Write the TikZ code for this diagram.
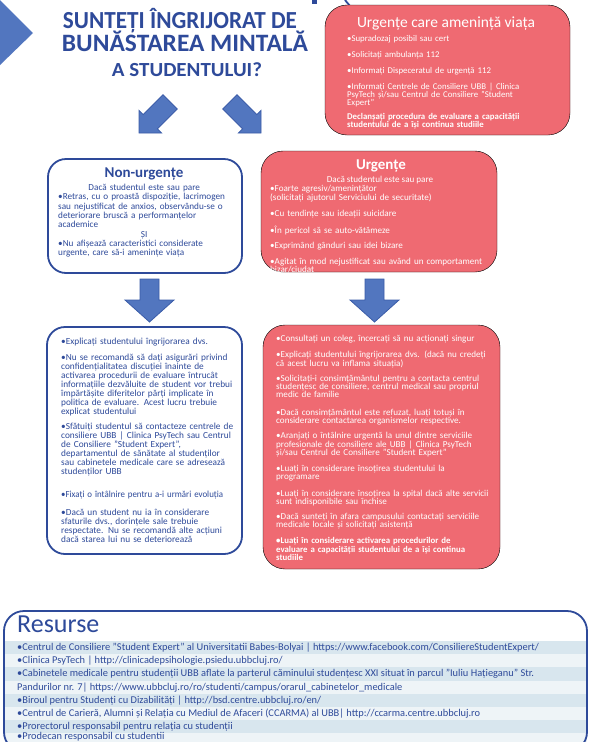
\documentclass[tikz,border=0pt]{standalone}
\usepackage{fontspec}
\setmainfont{Carlito}
\usepackage{graphicx}
\definecolor{bl}{HTML}{2E4A9A}
\definecolor{arr}{HTML}{5276BF}
\definecolor{arrd}{HTML}{3A5CA8}
\definecolor{rd}{HTML}{EF6A72}
\definecolor{stA}{HTML}{D8E6EE}
\definecolor{stB}{HTML}{EEF4F7}
\newcommand\jl[1]{\makebox[\hsize][s]{#1}}
\newcommand\cl[1]{\makebox[\hsize][c]{#1}}
\newcommand\lline[1]{\makebox[\hsize][l]{#1}}
\tikzset{
 redbox/.style={fill=rd, rounded corners=22pt},
 bluebox/.style={draw=bl, line width=1.8pt, fill=white, rounded corners=18pt},
 blockarrow/.style={fill=arr, draw=arrd, line width=0.8pt},
 btxt/.style={text=bl, font=\fontsize{9.3}{9}\selectfont, align=left, inner sep=0pt, anchor=north west},
 wtxt/.style={text=white, font=\fontsize{9.1}{8.2}\selectfont, align=left, inner sep=0pt, anchor=north west},
 restxt/.style={text=bl, font=\fontsize{10.4}{12}\selectfont, inner sep=0pt, anchor=west},
 titletxt/.style={text=bl, font=\bfseries, inner sep=0pt, anchor=base},
}
\begin{document}
\begin{tikzpicture}[x=1pt,y=-1pt]
\useasboundingbox (0,0) rectangle (589,742);
\clip (0,0) rectangle (589,742);
\fill[white] (0,0) rectangle (589,742);

% decorations at the top
\fill[arr] (0,0) -- (33,33) -- (0,65) -- cycle;
\fill[bl] (312,0) rectangle (317,4);
\draw[bl, line width=1.8pt] (345,0) -- (350,6);

% title
\node[titletxt] (t1) at (180,28.5) {\fontsize{24.5}{25}\selectfont\resizebox{234pt}{\height}{SUNTEȚI ÎNGRIJORAT DE}};
\node[titletxt] (t2) at (185,51.5) {\fontsize{25}{25}\selectfont\resizebox{246pt}{\height}{BUNĂSTAREA MINTALĂ}};
\node[titletxt] (t3) at (187,76) {\fontsize{20}{20}\selectfont\resizebox{150pt}{\height}{A STUDENTULUI?}};

% diagonal arrows
\draw[blockarrow] (163,94.8) -- (143.2,114.6) -- (139,110.4) -- (139,133) -- (161.6,133) -- (157.4,128.8) -- (177.2,109) -- cycle;
\draw[blockarrow] (237,94.8) -- (256.8,114.6) -- (261,110.4) -- (261,133) -- (238.4,133) -- (242.6,128.8) -- (222.8,109) -- cycle;

% boxes
\draw[redbox] (325,5) rectangle (570,135);
\draw[bluebox] (48,159) rectangle (242,273);
\draw[redbox] (261,151) rectangle (497,272);
\draw[bluebox] (47,327) rectangle (242,554);
\draw[redbox] (263,325) rectangle (500,569);

% down arrows
\draw[blockarrow] (140,279) -- (159,279) -- (159,300) -- (174,300) -- (149.5,322) -- (125,300) -- (140,300) -- cycle;
\draw[blockarrow] (365,279) -- (384,279) -- (384,300) -- (399,300) -- (374.5,322) -- (350,300) -- (365,300) -- cycle;

% top right box
\node[text=white, inner sep=0pt, anchor=base, font=\fontsize{15.5}{15}\selectfont] (trt) at (446,27) {Urgențe care amenință viața};
\node[wtxt, text width=190pt, font=\fontsize{8.8}{8}\selectfont] (trx) at (347,35) {%
•Supradozaj posibil sau cert\\[8pt]
•Solicitați ambulanța 112\\[8.5pt]
•Informați Dispeceratul de urgență 112\\[8pt]
•Informați Centrele de Consiliere UBB | Clinica\\
PsyTech și/sau Centrul de Consiliere "Student\\
Expert"\\[6pt]
\textbf{Declanșați procedura de evaluare a capacității}\\
\textbf{studentului de a își continua studiile}};

% non-urgente
\node[titletxt, font=\bfseries\fontsize{15}{15}\selectfont] (nut) at (144,177) {Non-urgențe};
\node[btxt, text width=172pt, font=\fontsize{9.2}{9.3}\selectfont] (nux) at (58,184) {%
\cl{Dacă studentul este sau pare}\\
\jl{•Retras, cu o proastă dispoziție, lacrimogen}\\
\jl{sau nejustificat de anxios, observându-se o}\\
\jl{deteriorare bruscă a performanțelor}\\
academice\\
\cl{ȘI}\\
\jl{•Nu afișează caracteristici considerate}\\
urgente, care să-i amenințe viața};

% urgente
\node[titletxt, text=white, font=\bfseries\fontsize{15}{15}\selectfont] (ut) at (381,169) {Urgențe};
\node[text=white, inner sep=0pt, anchor=base, font=\fontsize{9.1}{8.2}\selectfont] (ux0) at (380,182.5) {Dacă studentul este sau pare};
\node[wtxt, text width=222pt] (ux) at (270,185) {%
•Foarte agresiv/amenințător\\
(solicitați ajutorul Serviciului de securitate)\\[7.5pt]
•Cu tendințe sau ideații suicidare\\[7pt]
•În pericol să se auto-vătămeze\\[7pt]
•Exprimând gânduri sau idei bizare\\[7pt]
•Agitat în mod nejustificat sau având un comportament\\
bizar/ciudat};

% bottom left
\node[btxt, text width=169pt] (b1) at (61,338) {\lline{•Explicați studentului îngrijorarea dvs.}};
\node[btxt, text width=169pt] (b2) at (61,353.5) {%
\jl{•Nu se recomandă să dați asigurări privind}\\
\jl{confidențialitatea discuției înainte de}\\
\jl{activarea procedurii de evaluare întrucât}\\
\jl{informațiile dezvăluite de student vor trebui}\\
\jl{împărtășite diferitelor părți implicate în}\\
\jl{politica de evaluare. Acest lucru trebuie}\\
\lline{explicat studentului}};
\node[btxt, text width=169pt] (b3) at (61,423) {%
\jl{•Sfătuiți studentul să contacteze centrele de}\\
\jl{consiliere UBB | Clinica PsyTech sau Centrul}\\
\jl{de Consiliere "Student Expert",}\\
\jl{departamentul de sănătate al studenților}\\
\jl{sau cabinetele medicale care se adresează}\\
\lline{studenților UBB}};
\node[btxt, text width=169pt] (b4) at (61,490.5) {\lline{\resizebox{162pt}{\height}{•Fixați o întâlnire pentru a-i urmări evoluția}}};
\node[btxt, text width=169pt] (b5) at (61,508.5) {%
\jl{•Dacă un student nu ia în considerare}\\
\jl{sfaturile dvs., dorințele sale trebuie}\\
\jl{respectate. Nu se recomandă alte acțiuni}\\
\lline{dacă starea lui nu se deteriorează}};

% bottom right
\node[wtxt, text width=211pt] (r1) at (276,334.5) {\lline{•Consultați un coleg, încercați să nu acționați singur}};
\node[wtxt, text width=211pt] (r2) at (276,350.5) {%
\jl{•Explicați studentului îngrijorarea dvs. (dacă nu credeți}\\
\lline{că acest lucru va inflama situația)}};
\node[wtxt, text width=211pt] (r3) at (276,374.5) {%
\jl{•Solicitați-i consimțământul pentru a contacta centrul}\\
\jl{studențesc de consiliere, centrul medical sau propriul}\\
\lline{medic de familie}};
\node[wtxt, text width=211pt] (r4) at (276,408.5) {%
\jl{•Dacă consimțământul este refuzat, luați totuși în}\\
\lline{considerare contactarea organismelor respective.}};
\node[wtxt, text width=211pt] (r5) at (276,431.5) {%
\jl{•Aranjați o întâlnire urgentă la unul dintre serviciile}\\
\jl{profesionale de consiliere ale UBB | Clinica PsyTech}\\
\lline{și/sau Centrul de Consiliere "Student Expert"}};
\node[wtxt, text width=211pt] (r6) at (276,464.5) {%
\jl{•Luați în considerare însoțirea studentului la}\\
\lline{programare}};
\node[wtxt, text width=211pt] (r7) at (276,489.5) {%
\jl{•Luați în considerare însoțirea la spital dacă alte servicii}\\
\lline{sunt indisponibile sau închise}};
\node[wtxt, text width=211pt] (r8) at (276,512.5) {%
\jl{•Dacă sunteți în afara campusului contactați serviciile}\\
\lline{medicale locale și solicitați asistență}};
\node[wtxt, text width=211pt, font=\bfseries\fontsize{8.8}{8.2}\selectfont] (r9) at (276,537.5) {%
\jl{•Luați în considerare activarea procedurilor de}\\
\jl{evaluare a capacității studentului de a își continua}\\
\lline{studiile}};

% resources
\foreach \i/\c in {0/stA,1/stB,2/stA,3/stB,4/stA,5/stB,6/stA,7/stB}
  \fill[\c] (5,641+13.2*\i) rectangle (587,654.2+13.2*\i);
\draw[bl, line width=1.8pt, rounded corners=20pt] (4,611) rectangle (587,752);
\node[text=bl, inner sep=0pt, anchor=base west, font=\fontsize{26}{26}\selectfont] (rest) at (17,632) {Resurse};
\node[restxt] (q0) at (17,647.6) {•Centrul de Consiliere "Student Expert" al Universitatii Babes-Bolyai | https://www.facebook.com/ConsiliereStudentExpert/};
\node[restxt] (q1) at (17,660.8) {•Clinica PsyTech | http://clinicadepsihologie.psiedu.ubbcluj.ro/};
\node[restxt] (q2) at (17,674.0) {•Cabinetele medicale pentru studenții UBB aflate la parterul căminului studențesc XXI situat în parcul "Iuliu Hațieganu" Str.};
\node[restxt] (q3) at (17,687.2) {Pandurilor nr. 7| https://www.ubbcluj.ro/ro/studenti/campus/orarul\_cabinetelor\_medicale};
\node[restxt] (q4) at (17,700.4) {•Biroul pentru Studenți cu Dizabilități | http://bsd.centre.ubbcluj.ro/en/};
\node[restxt] (q5) at (17,713.6) {•Centrul de Carieră, Alumni și Relația cu Mediul de Afaceri (CCARMA) al UBB| http://ccarma.centre.ubbcluj.ro};
\node[restxt] (q6) at (17,726.8) {•Prorectorul responsabil pentru relația cu studenții};
\node[restxt] (q7) at (17,737.2) {•Prodecan responsabil cu studentii};
\end{tikzpicture}
\end{document}
